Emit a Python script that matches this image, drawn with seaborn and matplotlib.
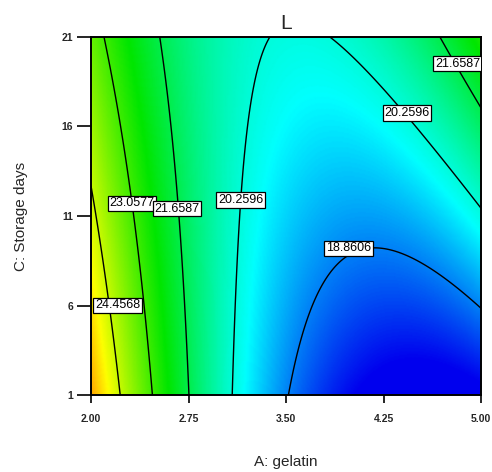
import numpy as np
import matplotlib
matplotlib.use("Agg")
import matplotlib.pyplot as plt
from matplotlib.colors import LinearSegmentedColormap
import seaborn as sns

# ---- data (points on contour lines: A, C, L) ----
levels = [18.8606, 20.2596, 21.6587, 23.0577, 24.4568]
pt_A = [2.00, 2.15, 2.215,
        2.092, 2.246, 2.338, 2.408, 2.477,
        2.515, 2.61, 2.685, 2.72, 2.754,
        3.38, 3.20, 3.14, 3.11, 3.085,
        3.80, 4.12, 4.45, 4.71, 5.00,
        4.66, 4.84, 5.00,
        3.52, 3.62, 3.76, 4.25, 4.63, 5.00]
pt_C = [12.2, 6.0, 1.0,
        21.0, 16.0, 11.0, 6.0, 1.0,
        21.0, 16.0, 11.0, 6.0, 1.0,
        21.0, 16.0, 11.0, 6.0, 1.0,
        21.0, 18.4, 16.75, 14.7, 11.3,
        21.0, 19.3, 16.9,
        1.0, 4.46, 7.26, 9.1, 8.15, 5.6]
pt_L = [24.4568] * 3 + [23.0577] * 5 + [21.6587] * 5 + [20.2596] * 10 + \
       [21.6587] * 3 + [18.8606] * 6
x_ticks = [2.00, 2.75, 3.50, 4.25, 5.00]
y_ticks = [1, 6, 11, 16, 21]

# ---- response surface (quadratic model fitted to the read points) ----
A = np.array(pt_A); C = np.array(pt_C); L = np.array(pt_L)
X = np.column_stack([np.ones_like(A), A, C, A * C, A ** 2, C ** 2])
coef, *_ = np.linalg.lstsq(X, L, rcond=None)
ga = np.linspace(2.0, 5.0, 301)
gc = np.linspace(1.0, 21.0, 301)
GA, GC = np.meshgrid(ga, gc)
GL = (coef[0] + coef[1] * GA + coef[2] * GC + coef[3] * GA * GC
      + coef[4] * GA ** 2 + coef[5] * GC ** 2)

sns.set_style("ticks")
plt.rcParams["font.family"] = ["Liberation Sans", "DejaVu Sans"]

vals = [17.8, 19.9, 22.4, 25.0, 26.2]
cols = ["#0000ee", "#00ffff", "#00e600", "#ffff00", "#ff8000"]
pos = [(v - vals[0]) / (vals[-1] - vals[0]) for v in vals]
cmap = LinearSegmentedColormap.from_list("de", list(zip(pos, cols)))

fig = plt.figure(figsize=(4.92, 4.72), dpi=100)
ax = fig.add_axes([91 / 492, 1 - 395 / 472, 390 / 492, 358 / 472])
ax.pcolormesh(GA, GC, GL, shading="gouraud", cmap=cmap,
              vmin=vals[0], vmax=vals[-1], rasterized=True)
cs = ax.contour(GA, GC, GL, levels=levels, colors="black", linewidths=1.0)

label_pos = [(2.315, 11.7), (2.66, 11.4), (3.15, 11.9), (2.205, 6.0),
             (3.98, 9.2), (4.43, 16.75), (4.82, 19.5)]
texts = ax.clabel(cs, inline=False, manual=label_pos, fontsize=9,
                  fmt=lambda v: f"{v:.4f}")
for t in texts:
    t.set_rotation(0)
    x0, y0 = t.get_position()
    best = min(label_pos, key=lambda p: (p[0] - x0) ** 2 / 9 + (p[1] - y0) ** 2 / 400)
    t.set_position(best)
    t.set_bbox(dict(facecolor="white", edgecolor="black", pad=1.2, linewidth=0.9))
    t.set_zorder(5)
    t.set_clip_on(True)
    t.set_clip_path(ax.patch)

ax.set_xlim(2.0, 5.0)
ax.set_ylim(1, 21)
ax.set_xticks(x_ticks)
ax.set_xticklabels([f"{v:.2f}" for v in x_ticks])
ax.set_yticks(y_ticks)
ax.set_yticklabels([str(v) for v in y_ticks])
ax.tick_params(axis="x", labelsize=7.5, length=6, width=1.2, pad=8, color="black")
ax.tick_params(axis="y", labelsize=7.5, length=10, width=1.2, pad=3, color="black")
for lab in ax.get_xticklabels() + ax.get_yticklabels():
    lab.set_fontweight("bold")
for s in ax.spines.values():
    s.set_color("black")
    s.set_linewidth(1.4)
ax.set_title("L", fontsize=15, pad=6)
ax.set_xlabel("A: gelatin", fontsize=11, labelpad=22)
ax.set_ylabel("C: Storage days", fontsize=11, labelpad=24)

fig.savefig("out.png", dpi=100)
